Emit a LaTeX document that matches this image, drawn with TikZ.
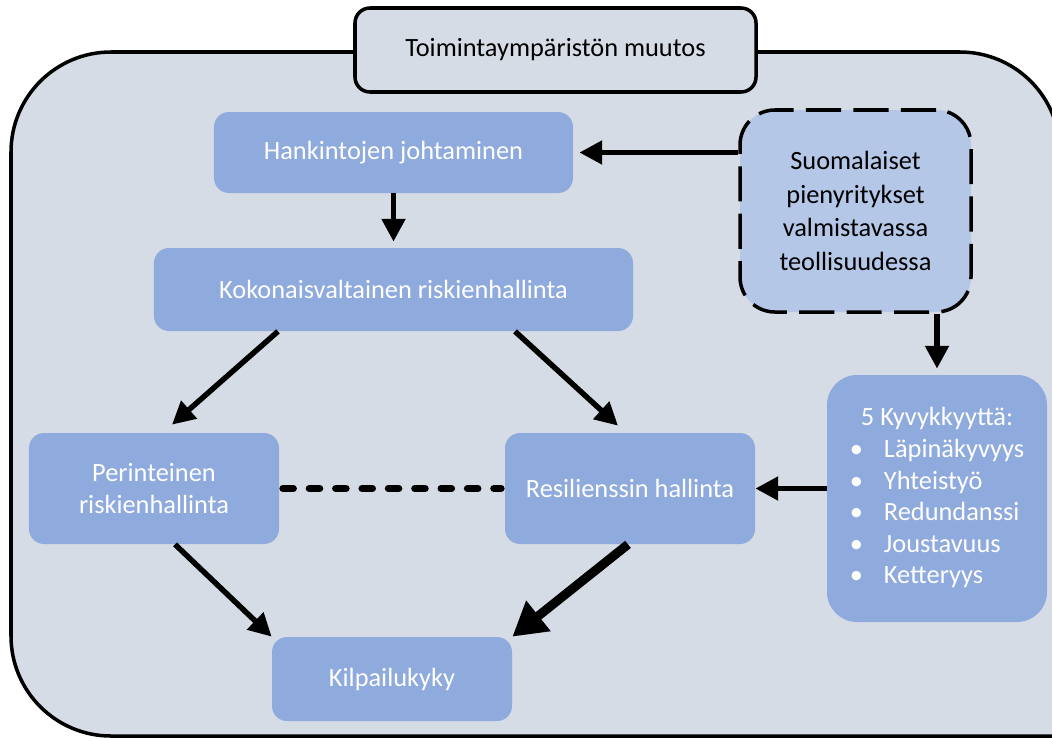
\documentclass[tikz,border=0pt]{standalone}
\usepackage{fontspec}
\setmainfont{Carlito}
\usetikzlibrary{arrows.meta}
\definecolor{envgray}{HTML}{D6DCE5}
\definecolor{boxblue}{HTML}{8FAADC}
\definecolor{paleblue}{HTML}{B4C7E7}

\begin{document}
\begin{tikzpicture}[x=0.2mm,y=-0.2mm,
    every node/.style={font=\fontsize{15}{18}\selectfont, align=center, inner sep=0pt},
    box/.style={fill=boxblue, text=white, rounded corners=3mm},
    arr/.style={-{Triangle[length=13pt,width=13pt]}, line width=3.1pt},
    bigarr/.style={-{Triangle[length=19pt,width=21pt]}, line width=5.2pt}]
    \useasboundingbox (0,0) rectangle (1052,738);
    \clip (0,0) rectangle (1052,738);
    % the environment, cut off at the right
    \draw [fill=envgray, line width=2pt] (1250,736) -- (111,736) arc[start angle=270, end angle=180, radius=20mm]
          -- (11,152) arc[start angle=180, end angle=90, radius=20mm]
          -- (960,52) arc[start angle=90, end angle=20, radius=20mm] -- ++(-70:100mm);
    \node [draw, line width=2pt, fill=envgray, rounded corners=3mm, minimum width=80.2mm, minimum height=16.8mm] (muutos) at (555.5,50) {Toimintaympäristön muutos};
    % boxes
    \node [box, minimum width=71.8mm, minimum height=16.2mm] (hank) at (393.5,152.5) {Hankintojen johtaminen};
    \node [box, minimum width=95.8mm, minimum height=16.6mm] (koko) at (393.5,289.5) {Kokonaisvaltainen riskienhallinta};
    \node [box, minimum width=50mm, minimum height=22.2mm] (peri) at (154,488.5) {Perinteinen\\riskienhallinta};
    \node [box, minimum width=50mm, minimum height=22.2mm] (resi) at (630,488.5) {Resilienssin hallinta};
    \node [box, minimum width=48mm, minimum height=16.8mm] (kilp) at (392,679) {Kilpailukyky};
    \node [draw, line width=2pt, dash pattern=on 20pt off 7pt, fill=paleblue, rounded corners=7mm,
           minimum width=46.2mm, minimum height=40.4mm, font=\fontsize{15}{19}\selectfont] (suom) at (855.5,211)
          {Suomalaiset\\pienyritykset\\valmistavassa\\teollisuudessa};
    \node [box, rounded corners=6mm, minimum width=44mm, minimum height=49.4mm] (kyvy) at (937,498.5)
          {\begin{tabular}{@{}l@{\hspace{12pt}}l@{}}
           \multicolumn{2}{c}{5 Kyvykkyyttä:}\\
           • & Läpinäkyvyys\\
           • & Yhteistyö\\
           • & Redundanssi\\
           • & Joustavuus\\
           • & Ketteryys
           \end{tabular}};
    % connectors
    \draw [arr, shorten >=1.2mm] (suom.west |- hank.east) -- (hank.east);
    \draw [arr, shorten >=1.2mm] (hank.south) -- (koko.north);
    \draw [arr] ([xshift=-23.1mm]koko.south) -- ([xshift=3.6mm,yshift=1.6mm]peri.north);
    \draw [arr] ([xshift=24.3mm]koko.south) -- ([xshift=-2.4mm,yshift=1.4mm]resi.north);
    \draw [arr, shorten >=1.2mm] (kyvy.north |- suom.south) -- (kyvy.north);
    \draw [arr] (kyvy.west |- resi.east) -- (resi.east);
    \draw [arr] ([xshift=4.2mm]peri.south) -- (kilp.north west);
    \draw [bigarr] ([xshift=-0.4mm]resi.south) -- (kilp.north east);
    \draw [line width=4pt, dash pattern=on 6pt off 9pt, line cap=round, shorten <=2pt, shorten >=2pt] (peri.east) -- (resi.west);
\end{tikzpicture}
\end{document}
